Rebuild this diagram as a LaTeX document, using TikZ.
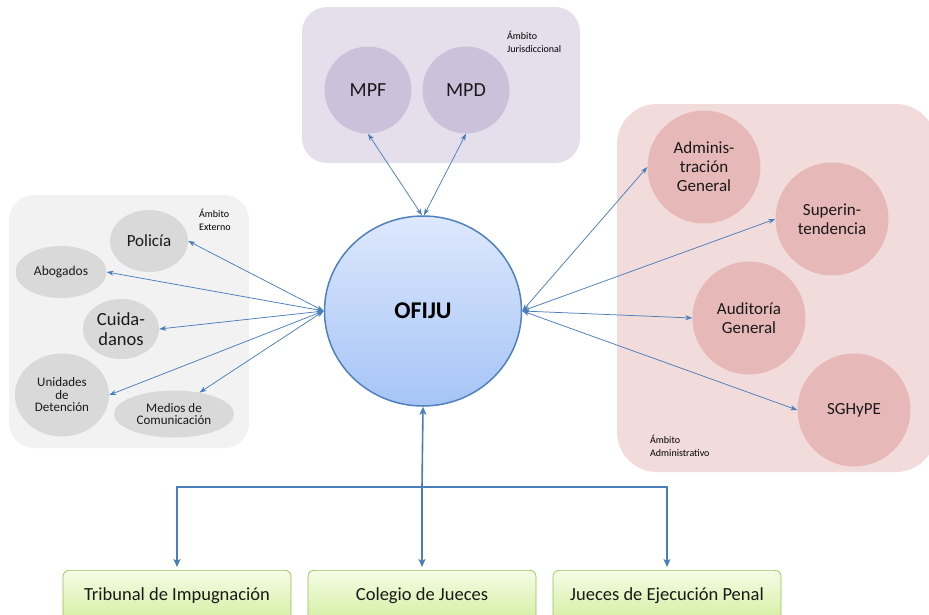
\documentclass[tikz,border=0pt]{standalone}
\usepackage{fontspec}
\setmainfont{Carlito}
\usetikzlibrary{shapes.geometric,arrows.meta,calc}
\definecolor{jurbg}{HTML}{E5DFEC}
\definecolor{jurc}{HTML}{CCC1DA}
\definecolor{extbg}{HTML}{F2F2F2}
\definecolor{extc}{HTML}{D9D9D9}
\definecolor{admbg}{HTML}{F2DCDB}
\definecolor{admc}{HTML}{E6B9B8}
\definecolor{ofitop}{HTML}{DDE8FC}
\definecolor{ofibot}{HTML}{A5C4F6}
\definecolor{ofiedge}{HTML}{4F81BD}
\definecolor{arr}{HTML}{4A7EBB}
\definecolor{grtop}{HTML}{F5FCE6}
\definecolor{grbot}{HTML}{D5EFA3}
\definecolor{gredge}{HTML}{9BBB59}
\begin{document}
\begin{tikzpicture}[x=1pt,y=-1pt,
  circ/.style={circle,inner sep=0pt,minimum size=#1,align=center,text=black!90},
  ell/.style={ellipse,inner sep=0pt,fill=extc,align=center,text=black!90},
  lbl/.style={anchor=west,align=left,inner sep=0pt,font=\fontsize{10}{13}\selectfont},
  link/.style={draw=arr,line width=0.75pt,{Stealth[length=7pt,width=5pt]}-{Stealth[length=7pt,width=5pt]}},
  blink/.style={draw=arr,line width=1.6pt,-{Stealth[length=8pt,width=7pt,inset=2pt]}},
  bottombox/.style={draw=gredge,line width=0.7pt,rounded corners=6pt,top color=grtop,bottom color=grbot,
    minimum width=228pt,minimum height=50pt,anchor=north,font=\fontsize{18.5}{21}\selectfont,text=black!90}
]
\clip (0,0) rectangle (929,614);
% areas
\fill[jurbg,rounded corners=25pt] (302,7) rectangle (580,163);
\fill[extbg,rounded corners=25pt] (9,195) rectangle (249,448);
\fill[admbg,rounded corners=40pt] (617,104) rectangle (936,472);
\node[lbl] (ljur) at (507,42) {Ámbito\\Jurisdiccional};
\node[lbl] (lext) at (199,220) {Ámbito\\Externo};
\node[lbl] (ladm) at (650,446) {Ámbito\\Administrativo};
% jurisdiccional
\node[circ=87pt,fill=jurc,font=\fontsize{20}{22}\selectfont] (mpf) at (368,90) {MPF};
\node[circ=87pt,fill=jurc,font=\fontsize{20}{22}\selectfont] (mpd) at (466,90) {MPD};
% externo
\node[ell,minimum width=78pt,minimum height=62pt,font=\fontsize{17}{19}\selectfont] (pol) at (149,241) {Policía};
\node[ell,minimum width=91pt,minimum height=52pt,font=\fontsize{13.5}{15}\selectfont] (abo) at (61,272) {Abogados};
\node[ell,minimum width=76pt,minimum height=60pt,font=\fontsize{18.5}{20}\selectfont] (cui) at (121,329) {Cuida-\\danos};
\node[ell,minimum width=94pt,minimum height=83pt,font=\fontsize{13}{12.5}\selectfont] (uni) at (62,395) {Unidades\\de\\Detención};
\node[ell,minimum width=120pt,minimum height=47pt,font=\fontsize{13}{12.5}\selectfont] (med) at (174,414) {Medios de\\Comunicación};
% administrativo
\node[circ=113pt,fill=admc,font=\fontsize{17}{19}\selectfont] (adm) at (704,167) {Adminis-\\tración\\General};
\node[circ=113pt,fill=admc,font=\fontsize{17}{19}\selectfont] (sup) at (832,219) {Superin-\\tendencia};
\node[circ=113pt,fill=admc,font=\fontsize{17}{19}\selectfont] (aud) at (749,318) {Auditoría\\General};
\node[circ=113pt,fill=admc,font=\fontsize{17}{19}\selectfont] (sgh) at (854,410) {SGHyPE};
% OFIJU
\node[ellipse,minimum width=197pt,minimum height=190pt,inner sep=0pt,draw=ofiedge,line width=1.5pt,
  top color=ofitop,bottom color=ofibot,font=\bfseries\fontsize{24}{26}\selectfont] (ofi) at (423,311) {OFIJU};
% bottom boxes
\node[bottombox] (tri) at (177,570) {Tribunal de Impugnación};
\node[bottombox] (col) at (422,570) {Colegio de Jueces};
\node[bottombox] (jue) at (667,570) {Jueces de Ejecución Penal};
% links
\path[link] (mpf.south) -- ($(ofi.north)+(-1,0)$);
\path[link] (mpd.south) -- ($(ofi.north)+(1,0)$);
\path[link] (ofi.west) -- (pol.east);
\path[link] (ofi.west) -- (abo.east);
\path[link] (ofi.west) -- (cui.east);
\path[link] (ofi.west) -- (uni.east);
\path[link] (ofi.west) -- (med.40);
\path[link] (ofi.east) -- (adm.west);
\path[link] (ofi.east) -- (sup.west);
\path[link] (ofi.east) -- (aud.west);
\path[link] (ofi.east) -- (sgh.west);
\coordinate (j) at (422,487);
\path[blink] (j) -- (ofi.south);
\path[blink] (j) -- ([yshift=3pt]col.north);
\path[blink] (j) -| ([yshift=3pt]tri.north);
\path[blink] (j) -| ([yshift=3pt]jue.north);
\end{tikzpicture}
\end{document}
